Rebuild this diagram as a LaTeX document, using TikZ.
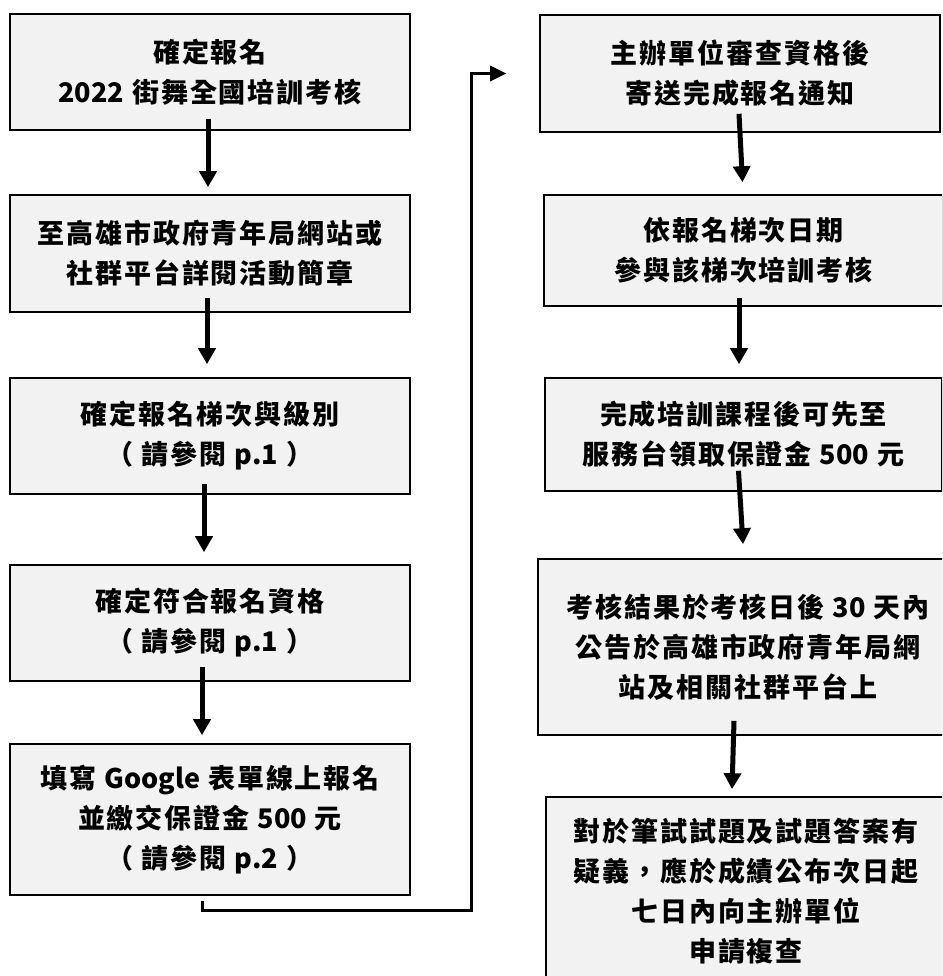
\documentclass[tikz,border=0pt]{standalone}
\usepackage{fontspec}
\setmainfont{Noto Sans CJK TC}[LetterSpace=7]
\newcommand\lat[1]{{\addfontfeature{LetterSpace=0}#1}}
\usetikzlibrary{arrows.meta}
\definecolor{boxgray}{HTML}{F2F2F2}

\begin{document}
\begin{tikzpicture}[
x=1pt,y=-1pt,
stepbox/.style={
  draw,
  fill=boxgray,
  line width=1.6pt,
  align=center,
  inner sep=0pt,
  font=\fontsize{27}{40}\selectfont\bfseries
},
flow/.style={
  line width=5pt,
  -{Triangle[length=16pt,width=17pt]}
},
link/.style={
  line width=3pt,
  -{Triangle[length=16pt,width=15pt]}
}
]
\clip (0,0) rectangle (942,976);

\node[stepbox,minimum width=400pt,minimum height=116pt] (l1) at (210,72)
  {確定報名\\\lat{2022} 街舞全國培訓考核};
\node[stepbox,minimum width=400pt,minimum height=117pt] (l2) at (210,253.5)
  {至高雄市政府青年局網站或\\社群平台詳閱活動簡章};
\node[stepbox,minimum width=400pt,minimum height=116pt] (l3) at (210,436)
  {確定報名梯次與級別\\（ 請參閱 \lat{p.1} ）};
\node[stepbox,minimum width=400pt,minimum height=116pt] (l4) at (210,623)
  {確定符合報名資格\\（ 請參閱 \lat{p.1} ）};
\node[stepbox,minimum width=400pt,minimum height=151pt] (l5) at (210,819.5)
  {填寫 \lat{Google} 表單線上報名\\並繳交保證金 \lat{500} 元\\（ 請參閱 \lat{p.2} ）};

\node[stepbox,minimum width=400pt,minimum height=117pt] (r1) at (740,73.5)
  {主辦單位審查資格後\\寄送完成報名通知};
\node[stepbox,minimum width=399pt,minimum height=111pt] (r2) at (743.5,250.5)
  {依報名梯次日期\\參與該梯次培訓考核};
\node[stepbox,minimum width=397pt,minimum height=113pt] (r3) at (743.5,434.5)
  {完成培訓課程後可先至\\服務台領取保證金 \lat{500} 元};
\node[stepbox,minimum width=420pt,minimum height=176pt] (r4) at (748,647)
  {考核結果於考核日後 \lat{30} 天內\\公告於高雄市政府青年局網\\站及相關社群平台上};
\node[stepbox,minimum width=400pt,minimum height=188pt] (r5) at (746,891)
  {對於筆試試題及試題答案有\\疑義，應於成績公布次日起\\七日內向主辦單位\\申請複查};

\draw[flow] ([xshift=-2pt,yshift=12pt]l1.south) -- ([xshift=-2pt,yshift=7pt]l2.north);
\draw[flow] ([xshift=-3pt,yshift=15pt]l2.south) -- ([xshift=-3pt,yshift=13pt]l3.north);
\draw[flow] ([xshift=-6pt,yshift=11pt]l3.south) -- ([xshift=-6pt,yshift=12pt]l4.north);
\draw[flow] ([xshift=-8pt,yshift=15pt]l4.south) -- ([xshift=-8pt,yshift=8pt]l5.north);

\draw[link] ([xshift=-8pt,yshift=-5pt]l5.south) -- ([xshift=-8pt,yshift=-15pt]l5.south)
  -| ([xshift=-68pt]r1.west) -- ([xshift=-33pt]r1.west);

\draw[flow] ([xshift=-1pt,yshift=19pt]r1.south) -- ([xshift=-1pt,yshift=12pt]r2.north);
\draw[flow] ([xshift=-4.5pt,yshift=9pt]r2.south) -- ([xshift=-4.5pt,yshift=13pt]r3.north);
\draw[flow] ([xshift=-5pt,yshift=21pt]r3.south) -- ([xshift=-5pt,yshift=14pt]r4.north);
\draw[flow] ([xshift=-14pt,yshift=15pt]r4.south) -- ([xshift=-14pt,yshift=7pt]r5.north);
\end{tikzpicture}
\end{document}
